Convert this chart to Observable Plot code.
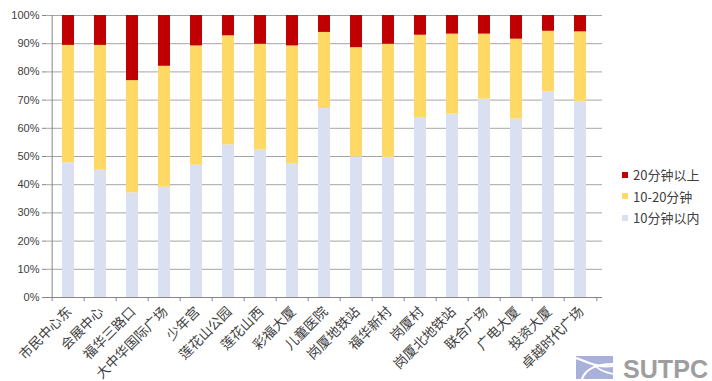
<!DOCTYPE html>
<html><head><meta charset="utf-8">
<script src="https://cdn.jsdelivr.net/npm/d3@7"></script>
<script src="https://cdn.jsdelivr.net/npm/@observablehq/plot@0.6"></script>
<style>
body{margin:0;background:#fff;}
#wrap{position:relative;width:712px;height:381px;overflow:hidden;}
#legend{position:absolute;left:621px;top:164px;font-family:"Noto Sans CJK SC",sans-serif;font-size:13px;color:#404040;line-height:21.5px;}
#legend .row{display:flex;align-items:center;white-space:nowrap;}
#legend .sw{width:6px;height:6px;margin-right:5px;margin-left:1px;}
#logo{position:absolute;left:574px;top:352px;}
</style></head><body><div id="wrap"></div>
<script>
const categories = ["市民中心东","会展中心","福华三路口","大中华国际广场","少年宫","莲花山公园","莲花山西","彩福大厦","儿童医院","岗厦地铁站","福华新村","岗厦村","岗厦北地铁站","联合广场","广电大厦","投资大厦","卓越时代广场"];
const seriesNames = ["10分钟以内","10-20分钟","20分钟以上"];
const within10 = [47.8,45.1,37.1,39.1,46.9,54.1,52.3,47.5,67.0,49.9,49.6,63.8,65.0,70.3,63.3,72.9,69.4];
const mid10to20 = [41.6,44.3,39.8,42.9,42.3,38.7,37.5,41.7,27.0,38.7,40.2,29.2,28.4,23.1,28.3,21.5,24.8];
const over20 = [10.6,10.6,23.1,18.0,10.8,7.2,10.2,10.8,6.0,11.4,10.2,7.0,6.6,6.6,8.4,5.6,5.8];
const colors = ["#DAE0F2","#FFD966","#C00000"];
const yTicks = [0,10,20,30,40,50,60,70,80,90,100];
const legendOrder = ["20分钟以上","10-20分钟","10分钟以内"];

const rows = [];
categories.forEach((c, i) => {
  rows.push({cat: c, series: seriesNames[0], value: within10[i]});
  rows.push({cat: c, series: seriesNames[1], value: mid10to20[i]});
  rows.push({cat: c, series: seriesNames[2], value: over20[i]});
});

const W = 712, H = 381, mL = 46, mR = 110, mT = 15, mB = 84;
const step = (W - mL - mR) / categories.length;

const chart = Plot.plot({
  width: W, height: H,
  marginLeft: mL, marginRight: mR, marginTop: mT, marginBottom: mB,
  style: {fontFamily: "'Liberation Sans', 'Noto Sans CJK SC', sans-serif", background: "#fff", color: "#404040", overflow: "visible"},
  x: {domain: categories, paddingInner: 0.62, paddingOuter: 0.31, axis: null, label: null},
  y: {domain: [0, 100], axis: null, label: null},
  color: {domain: seriesNames, range: colors},
  marks: [
    Plot.gridY(yTicks, {stroke: "#A6A6A6", strokeOpacity: 1, strokeWidth: 1}),
    Plot.barY(rows, Plot.stackY({order: seriesNames}, {x: "cat", y: "value", fill: "series"})),
    Plot.ruleY([0], {stroke: "#868686"}),
    Plot.ruleX([categories[0]], {y1: 0, y2: 100, dx: -step / 2, stroke: "#868686"}),
    Plot.ruleX(categories, {y1: 0, y2: 0, insetBottom: -4, dx: -step / 2, stroke: "#868686"}),
    Plot.ruleX([categories[categories.length - 1]], {y1: 0, y2: 0, insetBottom: -4, dx: step / 2, stroke: "#868686"}),
    Plot.axisY(yTicks, {tickSize: 4, tickPadding: 3, tickFormat: d => d + "%", label: null, stroke: "#868686", fill: "#404040"}),
    Plot.axisX({tickSize: 0, tickPadding: 12, tickRotate: -45, label: null, fill: "#404040", dx: 1})
  ]
});

const svg = d3.select(chart);
svg.selectAll('g[aria-label="y-axis tick label"]').attr("font-size", 11).style("font-size", "11px");
svg.selectAll('g[aria-label="y-axis tick label"] text').style("font-size", "11px");
svg.selectAll('g[aria-label="x-axis tick label"]').attr("font-size", 13.5).style("font-size", "13.5px")
  .style("font-family", "'Noto Sans CJK SC', sans-serif");
svg.selectAll('g[aria-label="x-axis tick label"] text').style("font-size", "13.5px")
  .style("font-family", "'Noto Sans CJK SC', sans-serif");

const wrap = document.getElementById("wrap");
wrap.appendChild(chart);

const legend = document.createElement("div");
legend.id = "legend";
legendOrder.forEach(name => {
  const row = document.createElement("div");
  row.className = "row";
  const sw = document.createElement("span");
  sw.className = "sw";
  sw.style.background = colors[seriesNames.indexOf(name)];
  const t = document.createElement("span");
  t.textContent = name;
  row.appendChild(sw); row.appendChild(t);
  legend.appendChild(row);
});
wrap.appendChild(legend);

const logo = document.createElement("div");
logo.id = "logo";
logo.innerHTML = `<svg width="138" height="29" xmlns="http://www.w3.org/2000/svg">
  <rect x="2" y="4" width="37" height="23" fill="#A9B1DA"/>
  <path d="M2 6 C 14 10, 22 16, 39 14" stroke="#fff" stroke-width="2.2" fill="none"/>
  <path d="M8 27 C 12 16, 24 12, 39 12" stroke="#fff" stroke-width="2.2" fill="none"/>
  <path d="M39 22 C 30 20, 24 17, 22 14" stroke="#fff" stroke-width="1.6" fill="none"/>
  <text x="49" y="25.5" font-family="'Liberation Sans', Arial, sans-serif" font-weight="bold" font-size="25" textLength="85" lengthAdjust="spacingAndGlyphs" fill="#9E9E9E">SUTPC</text>
</svg>`;
wrap.appendChild(logo);
</script>
</body></html>
